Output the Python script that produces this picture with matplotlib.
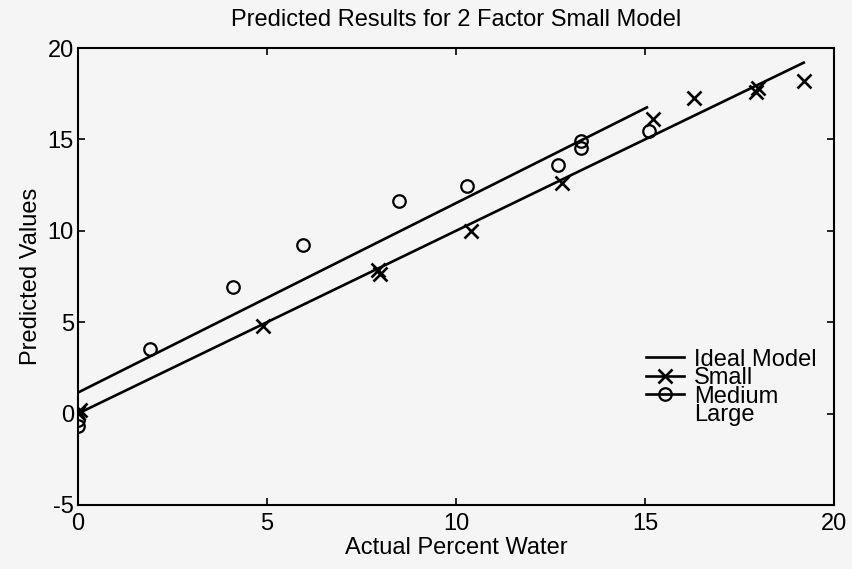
import numpy as np
import matplotlib.pyplot as plt
from matplotlib.lines import Line2D

plt.rcParams["font.family"] = ["Liberation Sans", "DejaVu Sans"]
plt.rcParams["axes.unicode_minus"] = False

# Small model predictions (x markers)
small_actual = [0.0, 0.05, 4.9, 7.95, 8.0, 10.4, 12.8, 15.2, 16.3, 17.95, 18.0, 19.2]
small_pred = [0.05, 0.2, 4.8, 7.85, 7.65, 10.0, 12.6, 16.1, 17.25, 17.6, 17.8, 18.2]

# Medium model predictions (o markers)
medium_actual = [0.0, 0.0, 1.9, 4.1, 5.95, 8.5, 10.3, 12.7, 13.3, 13.3, 15.1]
medium_pred = [-0.35, -0.7, 3.55, 6.9, 9.25, 11.65, 12.45, 13.6, 14.55, 14.9, 15.45]

# ideal y = x line and the offset line above it
ideal_x = [0.0, 19.2]
ideal_y = [0.0, 19.2]
upper_x = [0.0, 15.05]
upper_y = [1.15, 16.75]

x_ticks = [0, 5, 10, 15, 20]
y_ticks = [-5, 0, 5, 10, 15, 20]

bg = "#f5f5f5"
fig = plt.figure(figsize=(8.53, 5.69), dpi=100, facecolor=bg)
ax = fig.add_axes([0.0914, 0.1125, 0.8863, 0.8031], facecolor=bg)

ax.plot(ideal_x, ideal_y, color="black", lw=1.9)
ax.plot(upper_x, upper_y, color="black", lw=1.9)
ax.plot(small_actual, small_pred, linestyle="none", marker="x", ms=10, mew=1.9, color="black")
ax.plot(medium_actual, medium_pred, linestyle="none", marker="o", ms=9, mew=1.6,
        mfc="none", color="black")

ax.set_xlim(0, 20)
ax.set_ylim(-5, 20)
ax.set_xticks(x_ticks)
ax.set_yticks(y_ticks)
ax.tick_params(direction="in", length=5, width=1.2, top=True, right=True, labelsize=17)
ax.tick_params(axis="x", pad=6)
ax.tick_params(axis="y", pad=3)
for s in ax.spines.values():
    s.set_linewidth(1.5)

ax.set_title("Predicted Results for 2 Factor Small Model", fontsize=17, pad=16)
ax.set_xlabel("Actual Percent Water", fontsize=17, labelpad=1)
ax.set_ylabel("Predicted Values", fontsize=17, labelpad=4)

handles = [
    Line2D([], [], color="black", lw=1.9),
    Line2D([], [], color="black", lw=1.9, marker="x", ms=10, mew=1.9),
    Line2D([], [], color="black", lw=1.9, marker="o", ms=9, mew=1.6, mfc="none"),
    Line2D([], [], linestyle="none"),
]
labels = ["Ideal Model", "Small", "Medium", "Large"]
ax.legend(handles, labels, loc="upper left", bbox_to_anchor=(0.752, 0.342),
          frameon=False, fontsize=17, borderpad=0, borderaxespad=0,
          handlelength=1.6, handletextpad=0.4, labelspacing=-0.15)

fig.savefig("out.png", dpi=100, facecolor=bg)
